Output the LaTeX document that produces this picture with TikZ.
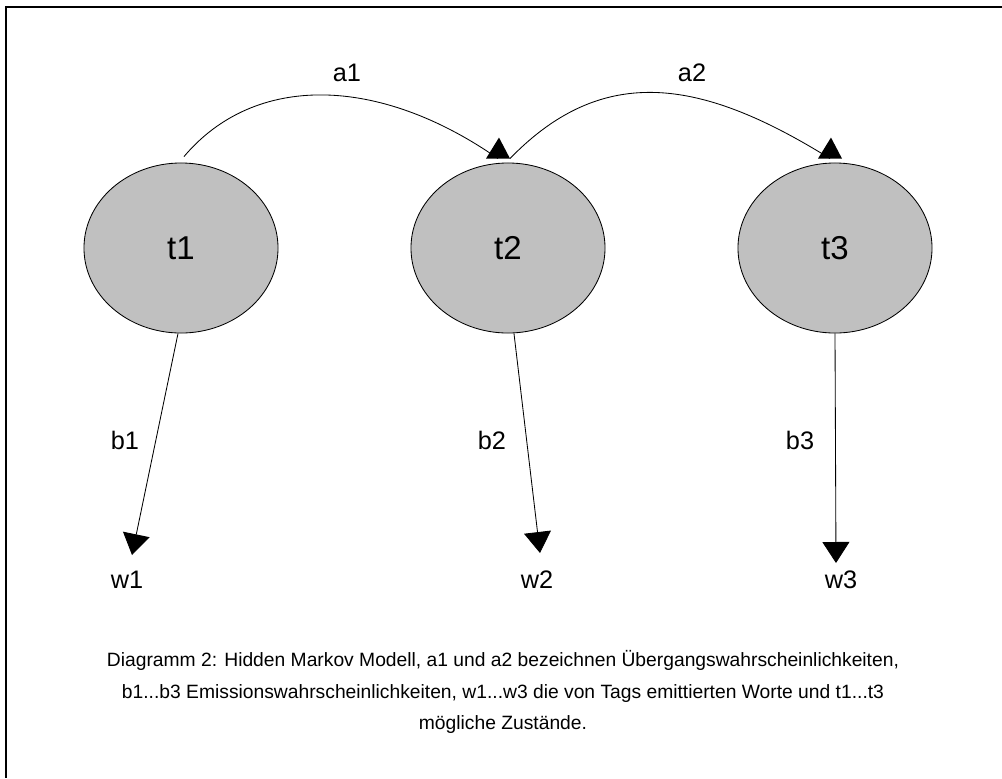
\documentclass[tikz,border=0pt]{standalone}
\usepackage{fontspec}
\setmainfont{Liberation Sans}
\usetikzlibrary{arrows.meta,calc,shapes.geometric}
\definecolor{stategray}{RGB}{192,192,192}
\tikzset{
  state/.style={ellipse,draw,line width=0.6pt,fill=stategray,minimum width=4.85cm,
    minimum height=4.25cm,inner sep=0pt,font=\fontsize{23.5}{28}\selectfont},
  lbl/.style={font=\fontsize{18}{21}\selectfont},
  link/.style={line width=0.6pt},
  emit/.style={line width=0.6pt,-{Triangle[width=0.675cm,length=0.525cm]}},
  uptip/.pic={\fill (-12,0) -- (12,0) -- (1,-21) -- cycle;}
}
\begin{document}
\begin{tikzpicture}[x=0.025cm,y=-0.025cm]
\useasboundingbox (0,0) rectangle (1002,778);
\draw[line width=1.4pt] (1002,7) -- (6,7) -- (6,778);
% states
\node[state] (t1) at (181,248) {t1};
\node[state] (t2) at (508,248) {t2};
\node[state] (t3) at (835,248) {t3};
% emitted words
\node[lbl] (w1) at (127,580) {w1};
\node[lbl] (w2) at (537,580) {w2};
\node[lbl] (w3) at (841,580) {w3};
\coordinate (e1) at (132,555);
\coordinate (e2) at (540,553);
\coordinate (e3) at (836,563);
% transitions
\coordinate (s1) at ($(t1.north)+(3,-6)$);
\coordinate (f1) at ($(t2.north)+(-10,-4)$);
\coordinate (s2) at ($(t2.north)+(2,-4)$);
\coordinate (f2) at ($(t3.north)+(-5,-4)$);
\draw[link] (s1) .. controls +(71,-84) and +(-119,-83) .. (f1);
\draw[link] (s2) .. controls +(94,-97) and +(-127,-79) .. (f2);
\pic at (f1) {uptip};
\pic at (f2) {uptip};
\node[lbl] (a1) at (347,73) {a1};
\node[lbl] (a2) at (692,73) {a2};
% emissions
\draw[emit] (t1.268) -- (e1);
\draw[emit] (t2.274) -- (e2);
\draw[emit] (t3.270) -- (e3);
\node[lbl] (b1) at (125,440) {b1};
\node[lbl] (b2) at (492,440) {b2};
\node[lbl] (b3) at (800,440) {b3};
% caption
\node[font=\fontsize{13.7}{22.3}\selectfont,align=center] (cap) at (503,692)
  {Diagramm 2: Hidden Markov Modell, a1 und a2 bezeichnen Übergangswahrscheinlichkeiten,\\
   b1...b3 Emissionswahrscheinlichkeiten, w1...w3 die von Tags emittierten Worte und t1...t3\\
   mögliche Zustände.};
\end{tikzpicture}
\end{document}
